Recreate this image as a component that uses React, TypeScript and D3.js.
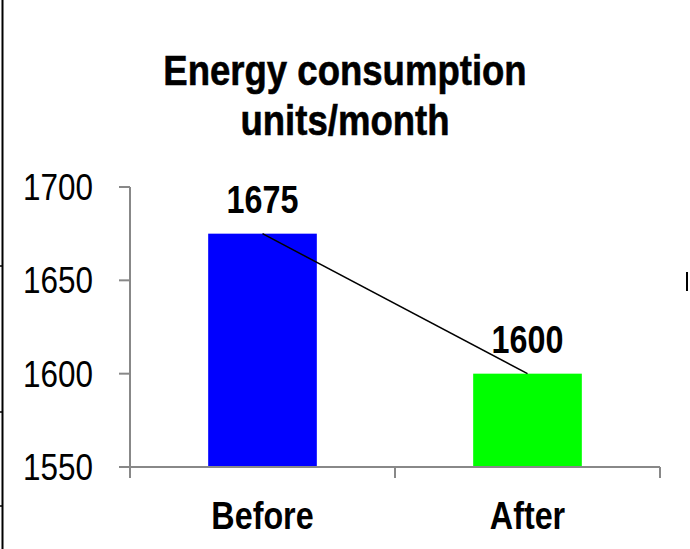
import React from 'react';
import * as d3 from 'd3';

const categories = ['Before', 'After'];
const consumption = [1675, 1600];
const yTicks = [1550, 1600, 1650, 1700];
const titleLines = ['Energy consumption', 'units/month'];

const W = 690;
const H = 549;
const font = '"Liberation Sans", Arial, sans-serif';
const SQUEEZE = 0.85; // imitate Arial Narrow

// text squeezed horizontally around its anchor point
const NText = ({ x, y, size, bold, anchor, heavy, children }: any) => (
  <g transform={`translate(${x},${y}) scale(${SQUEEZE},1)`}>
    <text textAnchor={anchor ?? 'middle'} fontFamily={font} fontWeight={bold ? 'bold' : 'normal'}
      fontSize={size} fill="#000" stroke={heavy ? '#000' : 'none'} strokeWidth={heavy ? 0.6 : 0}>
      {children}
    </text>
  </g>
);

const App = () => {
  const margin = { left: 130, right: 30, top: 187, bottom: 82 };
  const plotW = W - margin.left - margin.right;
  const plotH = H - margin.top - margin.bottom;

  const x = d3.scaleBand().domain(categories).range([0, plotW]).paddingInner(0).paddingOuter(0);
  const y = d3.scaleLinear().domain([1550, 1700]).range([plotH, 0]);
  const barW = x.bandwidth() * 0.41;

  const pts = categories.map((c, i) => [x(c)! + x.bandwidth() / 2, y(consumption[i])] as [number, number]);
  const line = d3.line()(pts);

  return (
    <svg width={W} height={H} style={{ position: 'absolute', left: 0, top: 0, background: '#fff' }}>
      {/* slide frame remnants */}
      <line x1={2.5} x2={2.5} y1={0} y2={H} stroke="#000" strokeWidth={2} />
      {[266, 412, 506].map((t) => (
        <line key={t} x1={0} x2={3} y1={t} y2={t} stroke="#000" strokeWidth={1.5} />
      ))}
      <line x1={687} x2={687} y1={272} y2={291} stroke="#000" strokeWidth={2} />

      {titleLines.map((t, i) => (
        <NText key={t} x={345} y={85 + i * 50} size={43} bold heavy>{t}</NText>
      ))}

      <g transform={`translate(${margin.left},${margin.top})`}>
        {categories.map((c, i) => (
          <rect key={c} x={x(c)! + (x.bandwidth() - barW) / 2} y={y(consumption[i])}
            width={barW} height={plotH - y(consumption[i])}
            fill={i === 0 ? '#0000ff' : '#00ff00'} />
        ))}
        <path d={line ?? ''} fill="none" stroke="#000" strokeWidth={1.5} />
        {categories.map((c, i) => (
          <NText key={c} x={pts[i][0]} y={pts[i][1] - 21} size={38} bold>{consumption[i]}</NText>
        ))}

        {/* y axis */}
        <line x1={0} x2={0} y1={0} y2={plotH} stroke="#888" strokeWidth={2} />
        {yTicks.map((t) => (
          <g key={t}>
            <line x1={-11} x2={0} y1={y(t)} y2={y(t)} stroke="#888" strokeWidth={2} />
            <NText x={-37} y={y(t) + 13} size={37} anchor="end">{t}</NText>
          </g>
        ))}

        {/* x axis */}
        <line x1={-11} x2={plotW} y1={plotH} y2={plotH} stroke="#888" strokeWidth={2} />
        {[0, ...categories.map((c) => x(c)! + x.bandwidth())].map((t) => (
          <line key={t} x1={t} x2={t} y1={plotH} y2={plotH + 11} stroke="#888" strokeWidth={2} />
        ))}
        {categories.map((c) => (
          <NText key={c} x={x(c)! + x.bandwidth() / 2} y={plotH + 62} size={38} bold>{c}</NText>
        ))}
      </g>
    </svg>
  );
};

export default App;
